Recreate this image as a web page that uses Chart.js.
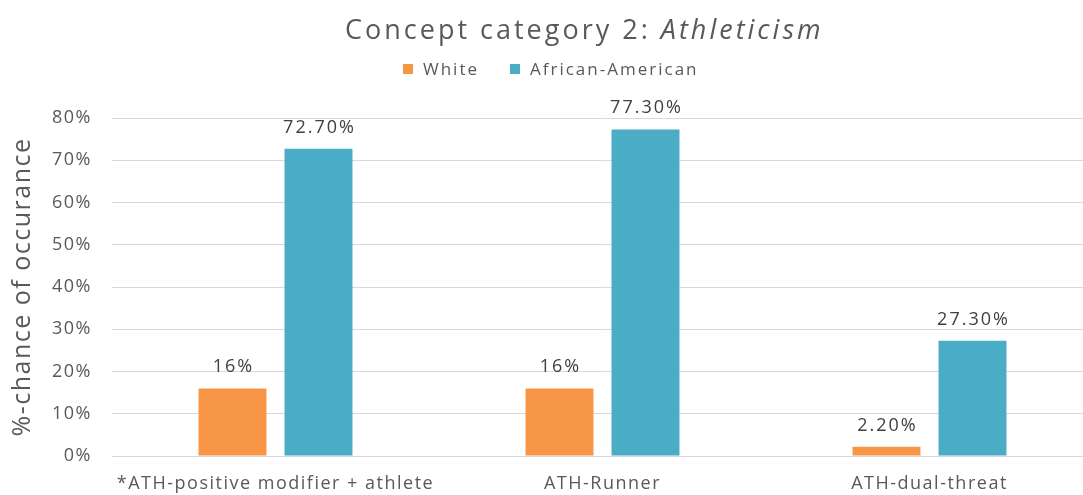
<!DOCTYPE html>
<html>
<head>
<meta charset="utf-8">
<script src="https://cdn.jsdelivr.net/npm/chart.js@4.4.0/dist/chart.umd.min.js"></script>
<style>
html,body{margin:0;padding:0;background:#fff;overflow:hidden;}
#wrap{width:1083px;height:495px;overflow:hidden;position:relative;}
canvas{display:block;}
</style>
</head>
<body>
<div id="wrap"><canvas id="c" width="1100" height="495"></canvas></div>
<script>
const categories = ["*ATH-positive modifier + athlete", "ATH-Runner", "ATH-dual-threat"];
const seriesNames = ["White", "African-American"];
const whiteValues = [16, 16, 2.2];
const africanAmericanValues = [72.7, 77.3, 27.3];
const whiteLabels = ["16%", "16%", "2.20%"];
const africanAmericanLabels = ["72.70%", "77.30%", "27.30%"];
const yTicks = [0, 10, 20, 30, 40, 50, 60, 70, 80];
const titleNormal = "Concept category 2: ";
const titleItalic = "Athleticism";
const yTitle = "%-chance of occurance";

const FONT = "'Open Sans', sans-serif";
const TEXT = "#595959";
const colors = ["#F79646", "#4BACC6"];
const AXIS_SPACING = "1.5px";

const spacing = {
  id: 'spacing',
  beforeUpdate(chart) { chart.ctx.letterSpacing = AXIS_SPACING; },
  beforeDraw(chart) { chart.ctx.letterSpacing = AXIS_SPACING; }
};

const overlay = {
  id: 'overlay',
  afterDatasetsDraw(chart) {
    const ctx = chart.ctx;
    ctx.save();
    // data labels
    ctx.letterSpacing = "2px";
    ctx.font = "18px " + FONT;
    ctx.fillStyle = "#404040";
    ctx.textAlign = "center";
    ctx.textBaseline = "alphabetic";
    chart.data.datasets.forEach((ds, i) => {
      const meta = chart.getDatasetMeta(i);
      meta.data.forEach((el, j) => {
        ctx.fillText(ds.labelsText[j], el.x + 1, el.y - 16);
      });
    });
    // title
    ctx.letterSpacing = "3px";
    ctx.fillStyle = TEXT;
    ctx.textBaseline = "alphabetic";
    ctx.textAlign = "left";
    ctx.font = "27px " + FONT;
    const w1 = ctx.measureText(titleNormal).width;
    const x0 = 345;
    ctx.fillText(titleNormal, x0, 39);
    ctx.font = "italic 27px " + FONT;
    ctx.fillText(titleItalic, x0 + w1, 39);
    // legend
    ctx.letterSpacing = "2px";
    ctx.font = "17px " + FONT;
    let lx = 403;
    const ly = 75;
    seriesNames.forEach((name, i) => {
      ctx.fillStyle = colors[i];
      ctx.fillRect(lx, ly - 11, 10, 10);
      lx += 20;
      ctx.fillStyle = TEXT;
      ctx.fillText(name, lx, ly);
      lx += ctx.measureText(name).width + 31;
    });
    ctx.restore();
  }
};

new Chart(document.getElementById('c'), {
  type: 'bar',
  data: {
    labels: categories,
    datasets: [
      { label: seriesNames[0], data: whiteValues, labelsText: whiteLabels, backgroundColor: colors[0],
        categoryPercentage: 0.526, barPercentage: 0.79 },
      { label: seriesNames[1], data: africanAmericanValues, labelsText: africanAmericanLabels, backgroundColor: colors[1],
        categoryPercentage: 0.526, barPercentage: 0.79 }
    ]
  },
  options: {
    responsive: false,
    animation: false,
    devicePixelRatio: 1,
    layout: { padding: { top: 118, right: 7, left: 0, bottom: 0 } },
    plugins: { legend: { display: false }, title: { display: false }, tooltip: { enabled: false } },
    scales: {
      x: {
        grid: { display: false },
        border: { color: "#d9d9d9", width: 1 },
        ticks: { color: TEXT, font: { family: FONT, size: 18 }, padding: 9, maxRotation: 0 },
        afterFit(s) { s.height = 39; }
      },
      y: {
        min: 0, max: 80,
        afterBuildTicks(s) { s.ticks = yTicks.map(v => ({ value: v })); },
        grid: { color: "#d9d9d9", lineWidth: 1, drawTicks: false },
        border: { display: false },
        ticks: { color: TEXT, font: { family: FONT, size: 18 }, padding: 20, callback: v => v + "%" },
        title: { display: true, text: yTitle, color: TEXT, font: { family: FONT, size: 25 }, padding: { top: 8, bottom: 0 } },
        afterFit(s) { s.width = 112; }
      }
    }
  },
  plugins: [spacing, overlay]
});
</script>
</body>
</html>
